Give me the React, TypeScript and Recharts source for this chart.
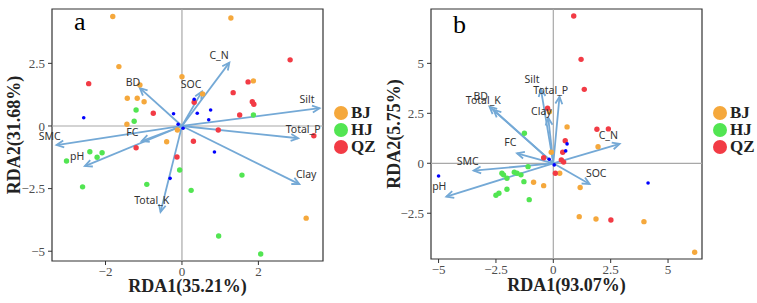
import React from 'react';
import { ScatterChart, Scatter, XAxis, YAxis, ReferenceLine, ReferenceArea, ReferenceDot, Legend } from 'recharts';

type Pt = { x: number; y: number };
type Loading = { name: string; x: number; y: number; lx: number; ly: number };

const GROUPS = ['BJ', 'HJ', 'QZ'] as const;
const GROUP_COLORS: Record<string, string> = { BJ: '#F5A83C', HJ: '#52E552', QZ: '#F23B45' };
const SPECIES_COLOR = '#0000FF';
const ARROW_COLOR = '#74A9D6';
const SERIF = '"Liberation Serif", "Times New Roman", serif';
const SANS = '"Noto Sans", "Open Sans", sans-serif';

// ---- panel a: site scores ----
const aBJ: Pt[] = [
  { x: -1.81, y: 4.37 }, { x: -1.65, y: 2.37 }, { x: -1.1, y: 1.64 }, { x: -1.43, y: 1.11 },
  { x: -1.17, y: 1.11 }, { x: -0.99, y: 0.97 }, { x: -1.44, y: 0.07 }, { x: 0.0, y: 1.97 },
  { x: -0.4, y: -0.63 }, { x: 1.28, y: 4.31 }, { x: 1.87, y: 1.8 }, { x: 0.54, y: 1.28 },
  { x: -0.12, y: -0.16 }, { x: 3.25, y: -3.68 },
];
const aHJ: Pt[] = [
  { x: -1.2, y: 0.64 }, { x: -1.25, y: 0.19 }, { x: 1.87, y: 0.44 }, { x: -0.06, y: -1.76 },
  { x: 1.57, y: -1.96 }, { x: -2.41, y: -1.03 }, { x: -2.09, y: -1.07 }, { x: -2.22, y: -1.25 },
  { x: -3.02, y: -1.4 }, { x: -2.6, y: -2.43 }, { x: -0.92, y: -2.33 }, { x: 0.24, y: -2.57 },
  { x: 0.96, y: -4.39 }, { x: 2.06, y: -5.11 },
];
const aQZ: Pt[] = [
  { x: -2.44, y: 1.69 }, { x: -0.75, y: 0.51 }, { x: 0.32, y: 0.95 }, { x: 0.3, y: -0.61 },
  { x: -1.2, y: -0.87 }, { x: 2.83, y: 2.64 }, { x: 1.73, y: 1.76 }, { x: 1.34, y: 1.33 },
  { x: 1.84, y: 0.97 }, { x: 1.88, y: 0.87 }, { x: 1.51, y: 0.44 }, { x: 0.95, y: -0.16 },
  { x: 3.45, y: -0.39 }, { x: -0.13, y: -1.24 },
];
const aSpecies: Pt[] = [
  { x: -2.57, y: 0.33 }, { x: -0.22, y: 0.49 }, { x: 0.32, y: 1.07 }, { x: 0.4, y: 0.51 },
  { x: 0.75, y: 0.64 }, { x: 0.7, y: 0.25 }, { x: 0.85, y: -1.04 }, { x: -0.31, y: -2.09 },
  { x: -0.1, y: 0.07 }, { x: 0.03, y: -0.09 },
];
// environmental vectors (tip) and where their names sit
const aLoadings: Loading[] = [
  { name: 'BD', x: -1.1, y: 1.51, lx: -1.28, ly: 1.76 },
  { name: 'SOC', x: 0.52, y: 1.37, lx: 0.24, ly: 1.68 },
  { name: 'C_N', x: 1.24, y: 2.53, lx: 0.97, ly: 2.82 },
  { name: 'Silt', x: 3.6, y: 0.71, lx: 3.27, ly: 1.08 },
  { name: 'Total_P', x: 3.04, y: -0.49, lx: 3.17, ly: -0.12 },
  { name: 'Clay', x: 3.07, y: -2.32, lx: 3.25, ly: -1.92 },
  { name: 'Total_K', x: -0.56, y: -3.43, lx: -0.79, ly: -2.96 },
  { name: 'pH', x: -2.54, y: -1.6, lx: -2.74, ly: -1.2 },
  { name: 'SMC', x: -3.28, y: -0.76, lx: -3.46, ly: -0.4 },
  { name: 'FC', x: -1.05, y: -0.6, lx: -1.3, ly: -0.24 },
];
const aXDomain = [-3.4, 3.69];
const aYDomain = [-5.39, 4.67];
const aXTicks = [-2, 0, 2];
const aYTicks = [-5, -2.5, 0, 2.5];

// ---- panel b: site scores ----
const bBJ: Pt[] = [
  { x: -0.17, y: 2.58 }, { x: 0.6, y: 1.82 }, { x: 1.95, y: 0.83 }, { x: -0.09, y: 0.55 },
  { x: 0.28, y: -0.5 }, { x: -0.42, y: -1.12 }, { x: 1.17, y: -1.21 }, { x: -0.86, y: -0.95 },
  { x: 1.13, y: -2.67 }, { x: 1.86, y: -2.79 }, { x: 3.95, y: -2.92 }, { x: 6.16, y: -4.45 },
];
const bHJ: Pt[] = [
  { x: -1.26, y: 1.5 }, { x: -2.24, y: -0.5 }, { x: -2.17, y: -0.58 }, { x: -2.02, y: -0.75 },
  { x: -1.7, y: -0.45 }, { x: -1.58, y: -0.5 }, { x: -1.41, y: -0.58 }, { x: -1.1, y: -0.17 },
  { x: -1.28, y: -0.92 }, { x: -2.02, y: -1.3 }, { x: -2.37, y: -1.5 }, { x: -2.5, y: -1.6 },
  { x: -1.05, y: -1.82 },
];
const bQZ: Pt[] = [
  { x: -0.25, y: 2.75 }, { x: 0.52, y: 1.13 }, { x: 0.89, y: 7.37 }, { x: 1.21, y: 5.2 },
  { x: 1.35, y: 3.7 }, { x: 1.9, y: 1.7 }, { x: 2.4, y: 1.72 }, { x: 0.41, y: 0.55 },
  { x: 0.35, y: 0.17 }, { x: -0.42, y: 0.28 }, { x: 0.09, y: -0.5 }, { x: 0.45, y: 0.06 },
  { x: 2.51, y: -2.84 },
];
const bSpecies: Pt[] = [
  { x: 0.6, y: 0.97 }, { x: 0.54, y: 0.62 }, { x: -5.0, y: -0.64 }, { x: 4.13, y: -0.99 },
  { x: -0.18, y: 0.2 }, { x: 0.04, y: -0.08 },
];
const bLoadings: Loading[] = [
  { name: 'BD', x: -2.78, y: 2.83, lx: -3.16, ly: 3.37 },
  { name: 'Total_K', x: -2.6, y: 2.67, lx: -3.05, ly: 3.17 },
  { name: 'Silt', x: -0.54, y: 3.7, lx: -0.93, ly: 4.22 },
  { name: 'Total_P', x: 0.27, y: 3.33, lx: -0.11, ly: 3.69 },
  { name: 'Clay', x: -0.22, y: 2.27, lx: -0.52, ly: 2.64 },
  { name: 'FC', x: -1.58, y: 0.5, lx: -1.87, ly: 1.04 },
  { name: 'SMC', x: -3.47, y: -0.37, lx: -3.73, ly: 0.12 },
  { name: 'pH', x: -4.66, y: -1.67, lx: -4.97, ly: -1.14 },
  { name: 'C_N', x: 2.89, y: 0.97, lx: 2.4, ly: 1.39 },
  { name: 'SOC', x: 1.58, y: -1.04, lx: 1.87, ly: -0.51 },
];
const bXDomain = [-5.33, 6.48];
const bYDomain = [-4.79, 7.72];
const bXTicks = [-5, -2.5, 0, 2.5, 5];
const bYTicks = [-2.5, 0, 2.5, 5];

const fmt = (v: number) => String(v).replace('-', '\u2212');

// line from the origin to the vector tip, with an open arrowhead
function ArrowLine(props: any) {
  const pts = props.points;
  if (!pts || pts.length < 2) return <g />;
  const [a, b] = pts;
  const ang = Math.atan2(b.y - a.y, b.x - a.x);
  const len = 8;
  const spread = Math.PI / 7;
  const h1 = [b.x - len * Math.cos(ang - spread), b.y - len * Math.sin(ang - spread)];
  const h2 = [b.x - len * Math.cos(ang + spread), b.y - len * Math.sin(ang + spread)];
  return (
    <g>
      <line x1={a.x} y1={a.y} x2={b.x} y2={b.y} stroke={ARROW_COLOR} strokeWidth={1.8} />
      <polyline
        points={`${h1[0]},${h1[1]} ${b.x},${b.y} ${h2[0]},${h2[1]}`}
        fill="none"
        stroke={ARROW_COLOR}
        strokeWidth={1.8}
      />
    </g>
  );
}

const dot = (color: string, r: number) => (p: any) => <circle cx={p.cx} cy={p.cy} r={r} fill={color} />;

function GroupLegend() {
  return (
    <div style={{ fontFamily: SERIF }}>
      {GROUPS.map((g) => (
        <div key={g} style={{ display: 'flex', alignItems: 'center', height: 17 }}>
          <span
            style={{ width: 14, height: 14, borderRadius: 7, background: GROUP_COLORS[g], display: 'inline-block', marginRight: 3 }}
          />
          <span style={{ fontWeight: 'bold', fontSize: 17, color: '#222', lineHeight: '17px' }}>{g}</span>
        </div>
      ))}
    </div>
  );
}

interface PanelProps {
  letter: string;
  letterY: number;
  xTitle: string;
  yTitle: string;
  width: number;
  yAxisWidth: number;
  xAxisHeight: number;
  yTitleX: number;
  xTitleY: number;
  xDomain: number[];
  yDomain: number[];
  xTicks: number[];
  yTicks: number[];
  bj: Pt[];
  hj: Pt[];
  qz: Pt[];
  species: Pt[];
  loadings: Loading[];
}

function RdaPanel(p: PanelProps) {
  const height = 303;
  const marginTop = 9;
  const marginRight = 55;
  const plotLeft = p.yAxisWidth;
  const plotRight = p.width - marginRight;
  const plotMidX = (plotLeft + plotRight) / 2;
  const plotMidY = (marginTop + height - p.xAxisHeight) / 2;
  const tickStyle = { fontSize: 13, fill: '#4d4d4d', fontFamily: SERIF };
  const groupData: Record<string, Pt[]> = { BJ: p.bj, HJ: p.hj, QZ: p.qz };

  return (
    <ScatterChart width={p.width} height={height} margin={{ top: marginTop, right: marginRight, bottom: 0, left: 0 }}>
      <XAxis
        type="number"
        dataKey="x"
        domain={p.xDomain}
        ticks={p.xTicks}
        allowDataOverflow
        interval={0}
        height={p.xAxisHeight}
        axisLine={false}
        tickLine={{ stroke: '#333' }}
        tickSize={4}
        tickMargin={2}
        tick={tickStyle}
        tickFormatter={fmt}
      />
      <YAxis
        type="number"
        dataKey="y"
        domain={p.yDomain}
        ticks={p.yTicks}
        allowDataOverflow
        interval={0}
        width={p.yAxisWidth}
        axisLine={false}
        tickLine={{ stroke: '#333' }}
        tickSize={4}
        tickMargin={3}
        tick={tickStyle}
        tickFormatter={fmt}
      />
      <ReferenceLine x={0} stroke="#a8a8a8" strokeWidth={1.2} />
      <ReferenceLine y={0} stroke="#a8a8a8" strokeWidth={1.2} />
      {p.loadings.map((l) => (
        <Scatter
          key={`arrow-${l.name}`}
          data={[{ x: 0, y: 0 }, { x: l.x, y: l.y }]}
          line={(lp: any) => <ArrowLine {...lp} />}
          shape={() => <g />}
          legendType="none"
          isAnimationActive={false}
        />
      ))}
      {GROUPS.map((g) => (
        <Scatter key={g} name={g} data={groupData[g]} shape={dot(GROUP_COLORS[g], 2.7)} isAnimationActive={false} />
      ))}
      <Scatter data={p.species} shape={dot(SPECIES_COLOR, 1.8)} legendType="none" isAnimationActive={false} />
      {p.loadings.map((l) => (
        <ReferenceDot
          key={`label-${l.name}`}
          x={l.lx}
          y={l.ly}
          ifOverflow="visible"
          shape={(sp: any) => (
            <text
              x={sp.cx}
              y={sp.cy}
              textAnchor="middle"
              dominantBaseline="central"
              fontFamily={SANS}
              fontSize={10.5}
              fill="#333"
            >
              {l.name}
            </text>
          )}
        />
      ))}
      <ReferenceArea
        x1={p.xDomain[0]}
        x2={p.xDomain[1]}
        y1={p.yDomain[0]}
        y2={p.yDomain[1]}
        fill="none"
        fillOpacity={0}
        stroke="#333"
        strokeWidth={1.2}
        ifOverflow="visible"
      />
      <text x={plotLeft + 22} y={p.letterY} fontFamily={SERIF} fontSize={26} fill="#000">
        {p.letter}
      </text>
      <text x={plotMidX} y={p.xTitleY} textAnchor="middle" fontFamily={SERIF} fontWeight="bold" fontSize={18} fill="#222">
        {p.xTitle}
      </text>
      <text
        transform={`translate(${p.yTitleX},${plotMidY}) rotate(-90)`}
        textAnchor="middle"
        fontFamily={SERIF}
        fontWeight="bold"
        fontSize={18}
        fill="#222"
      >
        {p.yTitle}
      </text>
      <Legend
        layout="vertical"
        align="center"
        verticalAlign="middle"
        wrapperStyle={{ left: plotRight + 11, top: 104, width: 44 }}
        content={() => <GroupLegend />}
      />
    </ScatterChart>
  );
}

export default function App() {
  return (
    <div style={{ position: 'absolute', left: 0, top: 0, width: 757, height: 303, background: '#fff', display: 'flex' }}>
      <RdaPanel
        letter="a"
        letterY={30}
        xTitle="RDA1(35.21%)"
        yTitle="RDA2(31.68%)"
        width={378}
        yAxisWidth={52}
        xAxisHeight={42}
        yTitleX={20}
        xTitleY={291.5}
        xDomain={aXDomain}
        yDomain={aYDomain}
        xTicks={aXTicks}
        yTicks={aYTicks}
        bj={aBJ}
        hj={aHJ}
        qz={aQZ}
        species={aSpecies}
        loadings={aLoadings}
      />
      <RdaPanel
        letter="b"
        letterY={33}
        xTitle="RDA1(93.07%)"
        yTitle="RDA2(5.75%)"
        width={379}
        yAxisWidth={53}
        xAxisHeight={44}
        yTitleX={21.5}
        xTitleY={290.5}
        xDomain={bXDomain}
        yDomain={bYDomain}
        xTicks={bXTicks}
        yTicks={bYTicks}
        bj={bBJ}
        hj={bHJ}
        qz={bQZ}
        species={bSpecies}
        loadings={bLoadings}
      />
    </div>
  );
}
